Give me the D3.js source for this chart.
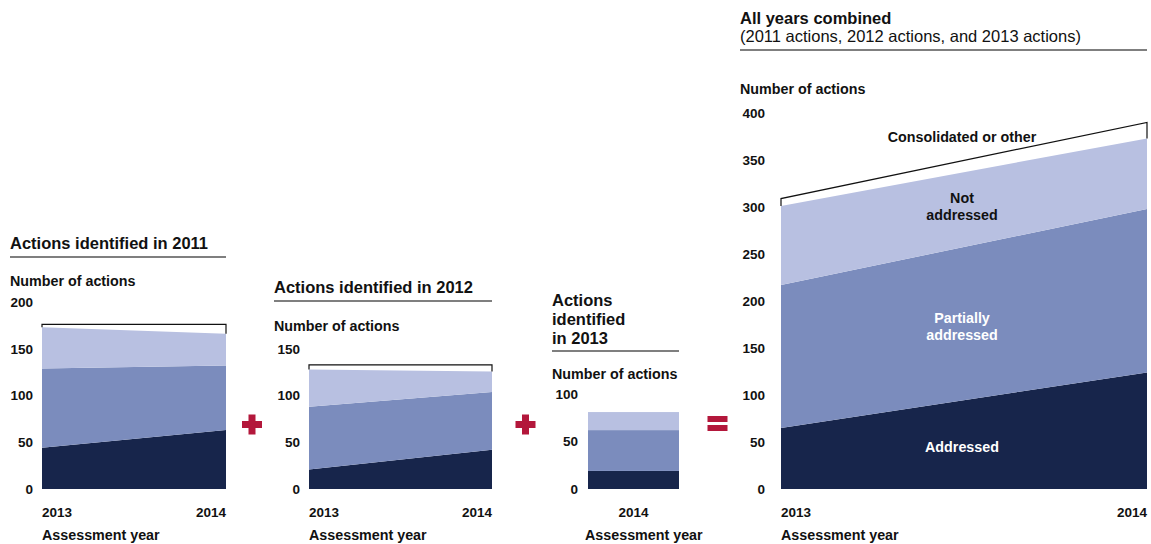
<!DOCTYPE html>
<html>
<head>
<meta charset="utf-8">
<script src="https://cdn.jsdelivr.net/npm/d3@7"></script>
<style>
  body { margin: 0; background: #ffffff; }
  svg text { font-family: "Liberation Sans", Arial, sans-serif; fill: #111; }
</style>
</head>
<body>
<script>
// ---- data ----
var years2 = ["2013", "2014"];
var years1 = ["2014"];
var categories = ["Addressed", "Partially addressed", "Not addressed", "Consolidated or other"];

var addressed2011 = [44, 63];
var partial2011 = [85, 69];
var notAddressed2011 = [44, 34];
var consolidated2011 = [3, 10];

var addressed2012 = [21, 42];
var partial2012 = [67, 62];
var notAddressed2012 = [40, 22];
var consolidated2012 = [5, 7];

var addressed2013 = [19];
var partial2013 = [43];
var notAddressed2013 = [19];

var addressedAll = [65, 124];
var partialAll = [152, 174];
var notAddressedAll = [84, 75];
var consolidatedAll = [8, 17];

var ticks2011 = [0, 50, 100, 150, 200];
var ticks2012 = [0, 50, 100, 150];
var ticks2013 = [0, 50, 100];
var ticksAll = [0, 50, 100, 150, 200, 250, 300, 350, 400];

var COLORS = ["#17254b", "#7b8cbd", "#b8c0e1"];
var RED = "#b3173b";
var BASE_Y = 489;
var TITLE_SIZE = "16.5px";
var LABEL_SIZE = "14.3px";
var TICK_SIZE = "13.5px";

var svg = d3.select("body").append("svg")
            .attr("width", 1151)
            .attr("height", 544);


function drawTitle(lines, x, firstY, lineGap, ruleY, ruleX2, weights)
{
  lines.forEach(function(t, i)
  {
    svg.append("text")
       .attr("x", x)
       .attr("y", firstY + i * lineGap)
       .attr("dy", "0.35em")
       .style("font-size", TITLE_SIZE)
       .style("font-weight", weights ? weights[i] : "bold")
       .text(t);
  });
  svg.append("line")
     .attr("x1", x).attr("x2", ruleX2)
     .attr("y1", ruleY).attr("y2", ruleY)
     .style("stroke", "#555")
     .style("stroke-width", 1.3);
}


function drawPanel(p)
{
  var y = d3.scaleLinear()
            .domain([0, p.ticks[p.ticks.length - 1]])
            .range([BASE_Y, p.topY]);

  // y axis labels
  var axis = d3.axisLeft(y).tickValues(p.ticks).tickSize(0).tickPadding(p.pad);
  var g = svg.append("g").attr("transform", "translate(" + p.x0 + ",0)").call(axis);
  g.select(".domain").remove();
  g.selectAll("text")
   .style("font-size", TICK_SIZE)
   .style("font-weight", "bold")
   .style("font-family", "Liberation Sans, Arial, sans-serif")
   .style("fill", "#111");

  svg.append("text")
     .attr("x", p.labelX).attr("y", p.numY).attr("dy", "0.35em")
     .style("font-size", LABEL_SIZE).style("font-weight", "bold")
     .text("Number of actions");

  var series = [p.addressed, p.partial, p.notAddressed];

  if (p.years.length == 1)
  {
    var xb = d3.scaleBand().domain(p.years).range([p.x0, p.x1]).padding(0);
    var base = 0;
    series.forEach(function(s, i)
    {
      svg.append("rect")
         .attr("x", xb(p.years[0]))
         .attr("width", xb.bandwidth())
         .attr("y", y(base + s[0]))
         .attr("height", y(base) - y(base + s[0]))
         .style("fill", COLORS[i]);
      base += s[0];
    });
    svg.append("text")
       .attr("x", xb(p.years[0]) + xb.bandwidth() / 2).attr("y", 512).attr("dy", "0.35em")
       .attr("text-anchor", "middle")
       .style("font-size", TICK_SIZE).style("font-weight", "bold")
       .text(p.years[0]);
  }
  else
  {
    var x = d3.scalePoint().domain(p.years).range([p.x0, p.x1]);
    var rows = p.years.map(function(yr, i)
    {
      return { year: yr, a: p.addressed[i], b: p.partial[i], c: p.notAddressed[i] };
    });
    var stacked = d3.stack().keys(["a", "b", "c"])(rows);
    var area = d3.area()
                 .x(function(d) { return x(d.data.year); })
                 .y0(function(d) { return y(d[0]); })
                 .y1(function(d) { return y(d[1]); });
    stacked.forEach(function(layer, i)
    {
      svg.append("path").attr("d", area(layer)).style("fill", COLORS[i]);
    });

    // bracket for consolidated or other
    var top = stacked[2];
    var tot = rows.map(function(r, i) { return top[i][1] + p.consolidated[i]; });
    var bracket = d3.line()
      ([[x(p.years[0]), y(top[0][1])],
        [x(p.years[0]), y(tot[0])],
        [x(p.years[1]), y(tot[1])],
        [x(p.years[1]), y(top[1][1])]]);
    svg.append("path")
       .attr("d", bracket)
       .style("fill", "none")
       .style("stroke", "#111")
       .style("stroke-width", 1.2);

    svg.append("text")
       .attr("x", p.x0).attr("y", 512).attr("dy", "0.35em")
       .style("font-size", TICK_SIZE).style("font-weight", "bold")
       .text(p.years[0]);
    svg.append("text")
       .attr("x", p.x1).attr("y", 512).attr("dy", "0.35em")
       .attr("text-anchor", "end")
       .style("font-size", TICK_SIZE).style("font-weight", "bold")
       .text(p.years[1]);
  }

  svg.append("text")
     .attr("x", p.ayX).attr("y", 535).attr("dy", "0.35em")
     .style("font-size", LABEL_SIZE).style("font-weight", "bold")
     .text("Assessment year");

  return y;
}


function drawPlus(cx, cy)
{
  svg.append("rect").attr("x", cx - 10).attr("y", cy - 3.5).attr("width", 20).attr("height", 7).style("fill", RED);
  svg.append("rect").attr("x", cx - 3.5).attr("y", cy - 10).attr("width", 7).attr("height", 20).style("fill", RED);
}

function drawEquals(cx, cy)
{
  svg.append("rect").attr("x", cx - 10).attr("y", cy - 8).attr("width", 20).attr("height", 6).style("fill", RED);
  svg.append("rect").attr("x", cx - 10).attr("y", cy + 1).attr("width", 20).attr("height", 6).style("fill", RED);
}


// Panel 1
drawTitle(["Actions identified in 2011"], 10, 243, 0, 257, 226);
drawPanel({ years: years2, ticks: ticks2011, topY: 302, x0: 42, x1: 226, pad: 9,
            labelX: 10, numY: 281, ayX: 42,
            addressed: addressed2011, partial: partial2011,
            notAddressed: notAddressed2011, consolidated: consolidated2011 });

// Panel 2
drawTitle(["Actions identified in 2012"], 274, 287, 0, 301, 492);
drawPanel({ years: years2, ticks: ticks2012, topY: 349, x0: 309, x1: 492, pad: 9,
            labelX: 274, numY: 326, ayX: 309,
            addressed: addressed2012, partial: partial2012,
            notAddressed: notAddressed2012, consolidated: consolidated2012 });

// Panel 3
drawTitle(["Actions", "identified", "in 2013"], 552, 300, 19, 351, 679);
drawPanel({ years: years1, ticks: ticks2013, topY: 394, x0: 588, x1: 679, pad: 10,
            labelX: 552, numY: 374, ayX: 585,
            addressed: addressed2013, partial: partial2013,
            notAddressed: notAddressed2013 });

// Panel 4
drawTitle(["All years combined", "(2011 actions, 2012 actions, and 2013 actions)"],
          740, 18, 18.5, 50, 1147, ["bold", "normal"]);
drawPanel({ years: years2, ticks: ticksAll, topY: 113, x0: 781, x1: 1147, pad: 16,
            labelX: 740, numY: 89, ayX: 781,
            addressed: addressedAll, partial: partialAll,
            notAddressed: notAddressedAll, consolidated: consolidatedAll });

// in-chart labels
var inLabels = [
  { lines: ["Consolidated or other"], y: 137, color: "#111" },
  { lines: ["Not", "addressed"], y: 198, color: "#111" },
  { lines: ["Partially", "addressed"], y: 318, color: "#ffffff" },
  { lines: ["Addressed"], y: 447, color: "#ffffff" }
];
inLabels.forEach(function(l)
{
  l.lines.forEach(function(t, i)
  {
    svg.append("text")
       .attr("x", 962).attr("y", l.y + i * 16.5).attr("dy", "0.35em")
       .attr("text-anchor", "middle")
       .style("font-size", LABEL_SIZE).style("font-weight", "bold")
       .style("fill", l.color)
       .text(t);
  });
});

drawPlus(252, 424.5);
drawPlus(525.5, 424.5);
drawEquals(717.5, 424);
</script>
</body>
</html>
